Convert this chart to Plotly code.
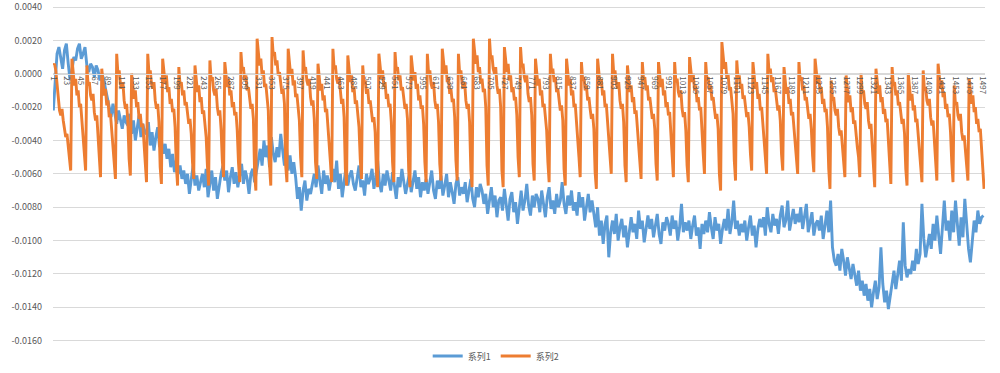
import plotly.graph_objects as go

# ---------------- data ----------------
series_names = ["系列1", "系列2"]

# 系列1 : one value every 3 categories (1, 4, 7, ...)
series1 = [
    -0.0022, -0.0005, 0.0012, 0.0016, 0.0008, 0.0003, 0.0014, 0.0018, 0.0006, -0.0004,
    0.0002, 0.0010, 0.0008, 0.0015, 0.0018, 0.0009, 0.0012, 0.0016, 0.0005, 0.0001,
    0.0006, 0.0004, -0.0002, 0.0005, 0.0002, -0.0004, 0.0000, -0.0003, -0.0009, -0.0014,
    -0.0020, -0.0026, -0.0018, -0.0024, -0.0030, -0.0022, -0.0028, -0.0033, -0.0025, -0.0029,
    -0.0031, -0.0024, -0.0036, -0.0028, -0.0040, -0.0033, -0.0025, -0.0038, -0.0030, -0.0035,
    -0.0036, -0.0029, -0.0043, -0.0035, -0.0046, -0.0038, -0.0032, -0.0044, -0.0040, -0.0048,
    -0.0042, -0.0051, -0.0045, -0.0056, -0.0048, -0.0059, -0.0052, -0.0060, -0.0055, -0.0063,
    -0.0058, -0.0066, -0.0060, -0.0072, -0.0063, -0.0055, -0.0067, -0.0061, -0.0070, -0.0064,
    -0.0060, -0.0068, -0.0057, -0.0074, -0.0065, -0.0058, -0.0070, -0.0062, -0.0075, -0.0066,
    -0.0060, -0.0055, -0.0064, -0.0058, -0.0071, -0.0062, -0.0056, -0.0066, -0.0059, -0.0068,
    -0.0061, -0.0054, -0.0066, -0.0058, -0.0063, -0.0072, -0.0060, -0.0057, -0.0065, -0.0059,
    -0.0052, -0.0045, -0.0055, -0.0040, -0.0050, -0.0043, -0.0056, -0.0038, -0.0048, -0.0053,
    -0.0044, -0.0050, -0.0036, -0.0047, -0.0055, -0.0042, -0.0058, -0.0049, -0.0060, -0.0053,
    -0.0062, -0.0075, -0.0068, -0.0082, -0.0070, -0.0064, -0.0076, -0.0069, -0.0072, -0.0066,
    -0.0060, -0.0068, -0.0055, -0.0064, -0.0072, -0.0058, -0.0066, -0.0061, -0.0070, -0.0063,
    -0.0057, -0.0065, -0.0052, -0.0069, -0.0060, -0.0074, -0.0063, -0.0056, -0.0067, -0.0061,
    -0.0058, -0.0066, -0.0070, -0.0062, -0.0055, -0.0068, -0.0064, -0.0073, -0.0060, -0.0066,
    -0.0063, -0.0057, -0.0069, -0.0062, -0.0052, -0.0066, -0.0071, -0.0060, -0.0067, -0.0058,
    -0.0064, -0.0070, -0.0059, -0.0067, -0.0075, -0.0062, -0.0068, -0.0057, -0.0065, -0.0072,
    -0.0066, -0.0060, -0.0071, -0.0064, -0.0058, -0.0069, -0.0062, -0.0074, -0.0065, -0.0070,
    -0.0063, -0.0072, -0.0066, -0.0058, -0.0070, -0.0075, -0.0064, -0.0069, -0.0061, -0.0073,
    -0.0067, -0.0060, -0.0074, -0.0065, -0.0071, -0.0078, -0.0066, -0.0062, -0.0073, -0.0068,
    -0.0072, -0.0065, -0.0077, -0.0070, -0.0063, -0.0075, -0.0080, -0.0068, -0.0074, -0.0066,
    -0.0070, -0.0078, -0.0072, -0.0084, -0.0075, -0.0068, -0.0080, -0.0073, -0.0086, -0.0076,
    -0.0074, -0.0082, -0.0069, -0.0079, -0.0088, -0.0075, -0.0071, -0.0083, -0.0077, -0.0090,
    -0.0078, -0.0070, -0.0082, -0.0076, -0.0066, -0.0079, -0.0085, -0.0073, -0.0080, -0.0072,
    -0.0075, -0.0083, -0.0070, -0.0078, -0.0086, -0.0074, -0.0068, -0.0081, -0.0076, -0.0084,
    -0.0072, -0.0080, -0.0076, -0.0065, -0.0078, -0.0084, -0.0073, -0.0079, -0.0070, -0.0082,
    -0.0077, -0.0085, -0.0071, -0.0080, -0.0074, -0.0088, -0.0079, -0.0072, -0.0083, -0.0076,
    -0.0084, -0.0092, -0.0080, -0.0097, -0.0088, -0.0102, -0.0090, -0.0085, -0.0110, -0.0095,
    -0.0088, -0.0096, -0.0084, -0.0100, -0.0092, -0.0087, -0.0098, -0.0091, -0.0104, -0.0094,
    -0.0086, -0.0095, -0.0090, -0.0099, -0.0082, -0.0093, -0.0088, -0.0101, -0.0092, -0.0085,
    -0.0093, -0.0087, -0.0098, -0.0090, -0.0084, -0.0096, -0.0102, -0.0089, -0.0094, -0.0086,
    -0.0090, -0.0097, -0.0085, -0.0093, -0.0088, -0.0100, -0.0092, -0.0078, -0.0095, -0.0089,
    -0.0094, -0.0088, -0.0099, -0.0091, -0.0085, -0.0097, -0.0092, -0.0105, -0.0090, -0.0096,
    -0.0088, -0.0095, -0.0083, -0.0092, -0.0099, -0.0086, -0.0094, -0.0090, -0.0102, -0.0093,
    -0.0087, -0.0094, -0.0081, -0.0096, -0.0089, -0.0076, -0.0093, -0.0088, -0.0097, -0.0090,
    -0.0095, -0.0088, -0.0100, -0.0092, -0.0085, -0.0097, -0.0091, -0.0104, -0.0093, -0.0087,
    -0.0092, -0.0086, -0.0097, -0.0080, -0.0090, -0.0095, -0.0084, -0.0091, -0.0087, -0.0096,
    -0.0085, -0.0079, -0.0092, -0.0088, -0.0076, -0.0094, -0.0086, -0.0081, -0.0090, -0.0084,
    -0.0089, -0.0080, -0.0093, -0.0086, -0.0078, -0.0095, -0.0088, -0.0083, -0.0097, -0.0090,
    -0.0088, -0.0094, -0.0085, -0.0099, -0.0091, -0.0082, -0.0095, -0.0076, -0.0104, -0.0112,
    -0.0115, -0.0108, -0.0118, -0.0105, -0.0112, -0.0121, -0.0110, -0.0116, -0.0123, -0.0114,
    -0.0120, -0.0127, -0.0118, -0.0130, -0.0124, -0.0133, -0.0126, -0.0136, -0.0129, -0.0140,
    -0.0131, -0.0124, -0.0135, -0.0128, -0.0104, -0.0126, -0.0137, -0.0130, -0.0141, -0.0133,
    -0.0125, -0.0118, -0.0129, -0.0121, -0.0112, -0.0124, -0.0089, -0.0115, -0.0122, -0.0117,
    -0.0120, -0.0112, -0.0118, -0.0105, -0.0114, -0.0108, -0.0078, -0.0099, -0.0110, -0.0103,
    -0.0096, -0.0105, -0.0090, -0.0100, -0.0085, -0.0097, -0.0108, -0.0092, -0.0076, -0.0094,
    -0.0088, -0.0100, -0.0082, -0.0095, -0.0076, -0.0090, -0.0103, -0.0086, -0.0098, -0.0075,
    -0.0092, -0.0105, -0.0113, -0.0098, -0.0088, -0.0095, -0.0082, -0.0090, -0.0086, -0.0085,
]

# 系列2 : one value every 2 categories (1, 3, 5, ...)
series2 = [
    0.0005, 0.0006, 0.0002, -0.0008, -0.0016, -0.0022, -0.0025, -0.0021, -0.0028, -0.0033, -0.0038, -0.0036, -0.0044, -0.0050, -0.0058,
    0.0009, 0.0000, -0.0007, -0.0003, -0.0013, -0.0010, -0.0020, -0.0018, -0.0028, -0.0034, -0.0046, -0.0058,
    0.0005, -0.0007, -0.0005, -0.0013, -0.0016, -0.0012, -0.0023, -0.0028, -0.0025, -0.0036, -0.0052, -0.0062,
    0.0003, -0.0006, -0.0013, -0.0009, -0.0019, -0.0016, -0.0026, -0.0024, -0.0034, -0.0040, -0.0051, -0.0063,
    0.0012, 0.0000, 0.0002, -0.0006, -0.0009, -0.0005, -0.0016, -0.0021, -0.0018, -0.0029, -0.0051, -0.0061,
    0.0000, -0.0008, -0.0015, -0.0010, -0.0020, -0.0017, -0.0027, -0.0024, -0.0032, -0.0030, -0.0041, -0.0053, -0.0065,
    0.0012, 0.0000, 0.0002, -0.0006, -0.0009, -0.0005, -0.0016, -0.0021, -0.0018, -0.0029, -0.0056, -0.0066,
    0.0009, 0.0001, -0.0006, -0.0001, -0.0011, -0.0008, -0.0018, -0.0015, -0.0023, -0.0021, -0.0032, -0.0055, -0.0067,
    0.0004, -0.0007, -0.0005, -0.0013, -0.0010, -0.0019, -0.0017, -0.0024, -0.0030, -0.0027, -0.0036, -0.0053, -0.0063,
    0.0005, -0.0004, -0.0011, -0.0007, -0.0017, -0.0014, -0.0024, -0.0022, -0.0032, -0.0038, -0.0055, -0.0067,
    0.0008, -0.0004, -0.0002, -0.0010, -0.0013, -0.0009, -0.0020, -0.0025, -0.0022, -0.0033, -0.0052, -0.0062,
    0.0007, -0.0001, -0.0008, -0.0003, -0.0013, -0.0010, -0.0020, -0.0017, -0.0025, -0.0023, -0.0034, -0.0053, -0.0065,
    0.0013, 0.0002, 0.0004, -0.0004, -0.0001, -0.0010, -0.0008, -0.0015, -0.0021, -0.0018, -0.0027, -0.0060, -0.0070,
    0.0021, 0.0012, 0.0005, 0.0009, -0.0001, 0.0002, -0.0008, -0.0006, -0.0016, -0.0022, -0.0055, -0.0067,
    0.0022, 0.0011, 0.0013, 0.0005, 0.0008, -0.0001, 0.0001, -0.0006, -0.0012, -0.0009, -0.0018, -0.0055, -0.0065,
    0.0015, 0.0006, -0.0001, 0.0003, -0.0007, -0.0004, -0.0014, -0.0012, -0.0022, -0.0028, -0.0050, -0.0062,
    0.0014, 0.0002, 0.0004, -0.0004, -0.0007, -0.0003, -0.0014, -0.0019, -0.0016, -0.0027, -0.0053, -0.0063,
    0.0006, -0.0003, -0.0010, -0.0006, -0.0016, -0.0013, -0.0023, -0.0021, -0.0031, -0.0037, -0.0053, -0.0065,
    0.0015, 0.0003, 0.0005, -0.0003, -0.0006, -0.0002, -0.0013, -0.0018, -0.0015, -0.0026, -0.0057, -0.0067,
    0.0011, 0.0002, -0.0005, -0.0001, -0.0011, -0.0008, -0.0018, -0.0016, -0.0026, -0.0032, -0.0051, -0.0063,
    0.0005, -0.0006, -0.0004, -0.0012, -0.0009, -0.0018, -0.0016, -0.0023, -0.0029, -0.0026, -0.0035, -0.0058, -0.0068,
    0.0012, 0.0004, -0.0003, 0.0002, -0.0008, -0.0005, -0.0015, -0.0012, -0.0020, -0.0018, -0.0029, -0.0053, -0.0065,
    0.0013, 0.0002, 0.0004, -0.0004, -0.0001, -0.0010, -0.0008, -0.0015, -0.0021, -0.0018, -0.0027, -0.0058, -0.0068,
    0.0011, 0.0003, -0.0004, 0.0001, -0.0009, -0.0006, -0.0016, -0.0013, -0.0021, -0.0019, -0.0030, -0.0053, -0.0065,
    0.0012, 0.0000, 0.0002, -0.0006, -0.0009, -0.0005, -0.0016, -0.0021, -0.0018, -0.0029, -0.0054, -0.0064,
    0.0015, 0.0007, 0.0000, 0.0005, -0.0005, -0.0002, -0.0012, -0.0009, -0.0017, -0.0015, -0.0026, -0.0052, -0.0064,
    0.0012, 0.0000, 0.0002, -0.0006, -0.0009, -0.0005, -0.0016, -0.0021, -0.0018, -0.0029, -0.0058, -0.0068,
    0.0021, 0.0013, 0.0006, 0.0011, 0.0001, 0.0004, -0.0006, -0.0003, -0.0011, -0.0009, -0.0020, -0.0055, -0.0067,
    0.0021, 0.0009, 0.0011, 0.0003, 0.0000, 0.0004, -0.0007, -0.0012, -0.0009, -0.0020, -0.0058, -0.0068,
    0.0016, 0.0008, 0.0001, 0.0006, -0.0004, -0.0001, -0.0011, -0.0008, -0.0016, -0.0014, -0.0025, -0.0050, -0.0062,
    0.0016, 0.0004, 0.0006, -0.0002, -0.0005, -0.0001, -0.0012, -0.0017, -0.0014, -0.0025, -0.0054, -0.0064,
    0.0009, 0.0000, -0.0007, -0.0003, -0.0013, -0.0010, -0.0020, -0.0018, -0.0028, -0.0034, -0.0053, -0.0065,
    0.0012, 0.0001, 0.0003, -0.0005, -0.0002, -0.0011, -0.0009, -0.0016, -0.0022, -0.0019, -0.0028, -0.0057, -0.0067,
    0.0009, 0.0000, -0.0007, -0.0003, -0.0013, -0.0010, -0.0020, -0.0018, -0.0028, -0.0034, -0.0050, -0.0062,
    0.0007, -0.0004, -0.0002, -0.0010, -0.0007, -0.0016, -0.0014, -0.0021, -0.0027, -0.0024, -0.0033, -0.0059, -0.0069,
    0.0009, 0.0000, -0.0007, -0.0003, -0.0013, -0.0010, -0.0020, -0.0018, -0.0028, -0.0034, -0.0048, -0.0060,
    0.0012, 0.0000, 0.0002, -0.0006, -0.0009, -0.0005, -0.0016, -0.0021, -0.0018, -0.0029, -0.0055, -0.0065,
    0.0005, -0.0004, -0.0011, -0.0007, -0.0017, -0.0014, -0.0024, -0.0022, -0.0032, -0.0038, -0.0051, -0.0063,
    0.0007, -0.0004, -0.0002, -0.0010, -0.0007, -0.0016, -0.0014, -0.0021, -0.0027, -0.0024, -0.0033, -0.0054, -0.0064,
    0.0007, -0.0001, -0.0008, -0.0003, -0.0013, -0.0010, -0.0020, -0.0017, -0.0025, -0.0023, -0.0034, -0.0050, -0.0062,
    0.0007, -0.0005, -0.0003, -0.0011, -0.0014, -0.0010, -0.0021, -0.0026, -0.0023, -0.0034, -0.0055, -0.0065,
    0.0010, 0.0002, -0.0005, 0.0000, -0.0010, -0.0007, -0.0017, -0.0014, -0.0022, -0.0020, -0.0031, -0.0048, -0.0060,
    0.0007, -0.0004, -0.0002, -0.0010, -0.0007, -0.0016, -0.0014, -0.0021, -0.0027, -0.0024, -0.0033, -0.0060, -0.0070,
    0.0019, 0.0010, 0.0003, 0.0007, -0.0003, 0.0000, -0.0010, -0.0008, -0.0018, -0.0024, -0.0052, -0.0064,
    0.0008, -0.0003, -0.0001, -0.0009, -0.0006, -0.0015, -0.0013, -0.0020, -0.0026, -0.0023, -0.0032, -0.0048, -0.0058,
    0.0007, -0.0002, -0.0009, -0.0005, -0.0015, -0.0012, -0.0022, -0.0020, -0.0030, -0.0036, -0.0048, -0.0060,
    0.0012, 0.0001, 0.0003, -0.0005, -0.0002, -0.0011, -0.0009, -0.0016, -0.0022, -0.0019, -0.0028, -0.0048, -0.0058,
    0.0004, -0.0005, -0.0012, -0.0008, -0.0018, -0.0015, -0.0025, -0.0023, -0.0033, -0.0039, -0.0048, -0.0060,
    0.0007, -0.0004, -0.0002, -0.0010, -0.0007, -0.0016, -0.0014, -0.0021, -0.0027, -0.0024, -0.0033, -0.0049, -0.0059,
    0.0009, 0.0001, -0.0006, -0.0001, -0.0011, -0.0008, -0.0018, -0.0015, -0.0023, -0.0021, -0.0032, -0.0057, -0.0069,
    -0.0004, -0.0016, -0.0014, -0.0022, -0.0025, -0.0021, -0.0032, -0.0037, -0.0034, -0.0045, -0.0052, -0.0062,
    -0.0001, -0.0010, -0.0017, -0.0013, -0.0023, -0.0020, -0.0030, -0.0028, -0.0038, -0.0044, -0.0050, -0.0062,
    0.0000, -0.0012, -0.0010, -0.0018, -0.0021, -0.0017, -0.0028, -0.0033, -0.0030, -0.0041, -0.0058, -0.0068,
    0.0003, -0.0005, -0.0012, -0.0007, -0.0017, -0.0014, -0.0024, -0.0021, -0.0029, -0.0027, -0.0038, -0.0054, -0.0066,
    0.0004, -0.0007, -0.0005, -0.0013, -0.0010, -0.0019, -0.0017, -0.0024, -0.0030, -0.0027, -0.0036, -0.0057, -0.0067,
    0.0000, -0.0009, -0.0016, -0.0012, -0.0022, -0.0019, -0.0029, -0.0027, -0.0037, -0.0043, -0.0053, -0.0065,
    0.0002, -0.0010, -0.0008, -0.0016, -0.0019, -0.0015, -0.0026, -0.0031, -0.0028, -0.0039, -0.0054, -0.0064,
    0.0006, -0.0002, -0.0009, -0.0004, -0.0014, -0.0011, -0.0021, -0.0018, -0.0026, -0.0024, -0.0035, -0.0053, -0.0065,
    -0.0007, -0.0019, -0.0017, -0.0025, -0.0028, -0.0024, -0.0035, -0.0040, -0.0037, -0.0046, -0.0054, -0.0064,
    -0.0003, -0.0011, -0.0018, -0.0013, -0.0023, -0.0020, -0.0030, -0.0027, -0.0035, -0.0033, -0.0044, -0.0058, -0.0069,
]

x_tick_labels = list(range(1, 1498, 22))
y_ticks = [0.004, 0.002, 0.0, -0.002, -0.004, -0.006, -0.008, -0.010, -0.012, -0.014, -0.016]

colors = ["#5B9BD5", "#ED7D31"]

# category positions of the sampled values
x1 = list(range(1, 1 + 3 * len(series1), 3))
x2 = list(range(1, 1 + 2 * len(series2), 2))

font_family = "Noto Sans CJK SC, Noto Sans, sans-serif"

fig = go.Figure()
fig.add_trace(go.Scatter(x=x1, y=series1, mode="lines", name=series_names[0],
                         line=dict(color=colors[0], width=2.9)))
fig.add_trace(go.Scatter(x=x2, y=series2, mode="lines", name=series_names[1],
                         line=dict(color=colors[1], width=2.9)))

fig.update_layout(
    width=1000, height=373,
    margin=dict(l=53, r=15, t=0, b=30, autoexpand=False),
    paper_bgcolor="white", plot_bgcolor="white",
    font=dict(family=font_family, color="#595959", size=9),
    showlegend=True,
    legend=dict(orientation="h", x=0.475, xanchor="center", y=-0.038, yanchor="middle",
                font=dict(size=9, color="#595959"), itemwidth=30),
    xaxis=dict(
        range=[0.5, 1500.5], showgrid=False, zeroline=False,
        tickmode="array", tickvals=x_tick_labels, ticktext=[str(v) for v in x_tick_labels],
        tickangle=90, tickfont=dict(size=8, color="#595959"),
        anchor="free", position=0.785, automargin=False,
        showline=True, linecolor="#D9D9D9", linewidth=1, ticks="",
    ),
    yaxis=dict(
        range=[-0.016137, 0.00442], showgrid=True, gridcolor="#D9D9D9", gridwidth=1,
        zeroline=False, showline=False, automargin=False,
        tickmode="array", tickvals=y_ticks, ticktext=[f"{v:.4f}" for v in y_ticks],
        tickfont=dict(size=9, color="#595959"), ticklabelstandoff=10,
        ticklabeloverflow="allow",
    ),
)

fig.write_html("out.html", config={"displayModeBar": False},
               post_script="document.body.style.margin='0px';")
